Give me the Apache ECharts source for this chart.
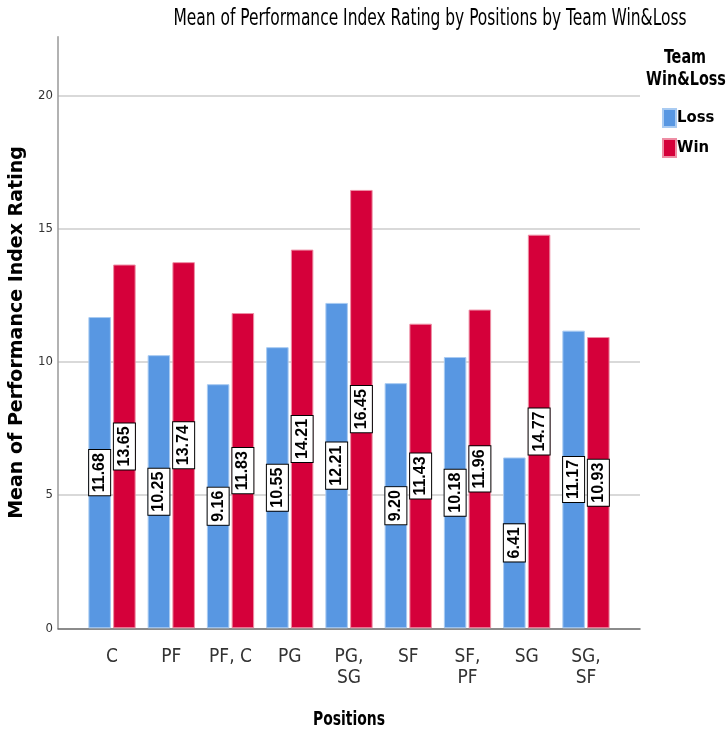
<!DOCTYPE html>
<html>
<head>
<meta charset="utf-8">
<script src="https://cdn.jsdelivr.net/npm/echarts@6/dist/echarts.min.js"></script>
<style>
html,body{margin:0;padding:0;background:#fff;}
#chart{width:728px;height:733px;}
</style>
</head>
<body>
<div id="chart"></div>
<script>
const categories = ["C", "PF", "PF, C", "PG", "PG,\nSG", "SF", "SF,\nPF", "SG", "SG,\nSF"];
const lossValues = [11.68, 10.25, 9.16, 10.55, 12.21, 9.20, 10.18, 6.41, 11.17];
const winValues = [13.65, 13.74, 11.83, 14.21, 16.45, 11.43, 11.96, 14.77, 10.93];
const seriesNames = ["Loss", "Win"];
const yTicks = [0, 5, 10, 15, 20];

const NARROW = "'Liberation Sans Narrow', 'DejaVu Sans Condensed', sans-serif";
const YMAX = 22.2;

const chart = echarts.init(document.getElementById('chart'), null, {renderer: 'canvas'});

const labelCfg = {
  show: true,
  position: 'inside',
  rotate: 90,
  formatter: p => p.value.toFixed(2),
  color: '#000',
  fontFamily: "'Liberation Sans', Arial, sans-serif",
  fontWeight: 'bold',
  fontSize: 16,
  backgroundColor: '#fff',
  borderColor: '#000',
  borderWidth: 1,
  padding: [2.5, 3, 2.5, 3]
};

chart.setOption({
  animation: false,
  graphic: [
    {
      type: 'text', x: 430, y: 19, scaleY: 1.3,
      style: {
        text: 'Mean of Performance Index Rating by Positions by Team Win&Loss',
        font: "normal 17.2px " + NARROW,
        fill: '#000', textAlign: 'center', textVerticalAlign: 'middle'
      }
    },
    {
      type: 'text', x: 685, y: 58, scaleY: 1.25,
      style: {
        text: 'Team',
        font: "bold 16px " + NARROW,
        fill: '#000', textAlign: 'center', textVerticalAlign: 'middle'
      }
    },
    {
      type: 'text', x: 686, y: 80, scaleY: 1.25,
      style: {
        text: 'Win&Loss',
        font: "bold 16px " + NARROW,
        fill: '#000', textAlign: 'center', textVerticalAlign: 'middle'
      }
    },
    {
      type: 'text', x: 349, y: 720, scaleY: 1.25,
      style: {
        text: 'Positions',
        font: "bold 15.5px " + NARROW,
        fill: '#000', textAlign: 'center', textVerticalAlign: 'middle'
      }
    }
  ],
  legend: {
    data: seriesNames,
    orient: 'vertical',
    left: 662,
    top: 108,
    padding: 0,
    itemWidth: 13,
    itemHeight: 18,
    itemGap: 10,
    icon: 'rect',
    textStyle: {fontFamily: NARROW, fontWeight: 'bold', fontSize: 16.5, color: '#000', padding: [0, 0, 0, -4]}
  },
  grid: [
    {left: 57.7, right: 88, top: 36.7, bottom: 104.7},
    {left: 82.4, right: 112.4, top: 36.7, bottom: 104.7}
  ],
  xAxis: [
    {
      gridIndex: 0, type: 'value', min: 0, max: 1,
      axisLine: {show: true, onZero: false, lineStyle: {color: '#666', width: 1.5}},
      axisTick: {show: false}, axisLabel: {show: false}, splitLine: {show: false}
    },
    {
      gridIndex: 1, type: 'category', data: categories,
      axisLine: {show: false}, axisTick: {show: false},
      axisLabel: {fontFamily: NARROW, fontSize: 19, color: '#333', margin: 18, lineHeight: 21, interval: 0}
    }
  ],
  yAxis: [
    {
      gridIndex: 0, type: 'value', min: 0, max: YMAX, interval: 5,
      axisLine: {show: true, lineStyle: {color: '#999', width: 1.5}},
      axisTick: {show: false},
      axisLabel: {fontFamily: NARROW, fontSize: 13, color: '#333', margin: 5, showMaxLabel: false,
        formatter: v => yTicks.includes(v) ? String(v) : ''},
      splitLine: {show: true, showMinLine: false, showMaxLine: false, lineStyle: {color: '#cccccc', width: 1.5}},
      name: 'Mean of Performance Index Rating', nameLocation: 'middle', nameGap: 31,
      nameTextStyle: {fontFamily: "'DejaVu Sans', sans-serif", fontWeight: 'bold', fontSize: 19, color: '#000'}
    },
    {
      gridIndex: 1, type: 'value', min: 0, max: YMAX, show: false
    }
  ],
  series: [
    {
      name: seriesNames[0], type: 'bar', xAxisIndex: 1, yAxisIndex: 1,
      data: lossValues, barWidth: 22.5, barGap: '10%',
      itemStyle: {color: '#5897E2', borderColor: '#a9cbf2', borderWidth: 1},
      label: labelCfg
    },
    {
      name: seriesNames[1], type: 'bar', xAxisIndex: 1, yAxisIndex: 1,
      data: winValues, barWidth: 22.5, barGap: '10%',
      itemStyle: {color: '#D5003A', borderColor: '#ee8ea5', borderWidth: 1},
      label: labelCfg
    }
  ]
});
</script>
</body>
</html>
